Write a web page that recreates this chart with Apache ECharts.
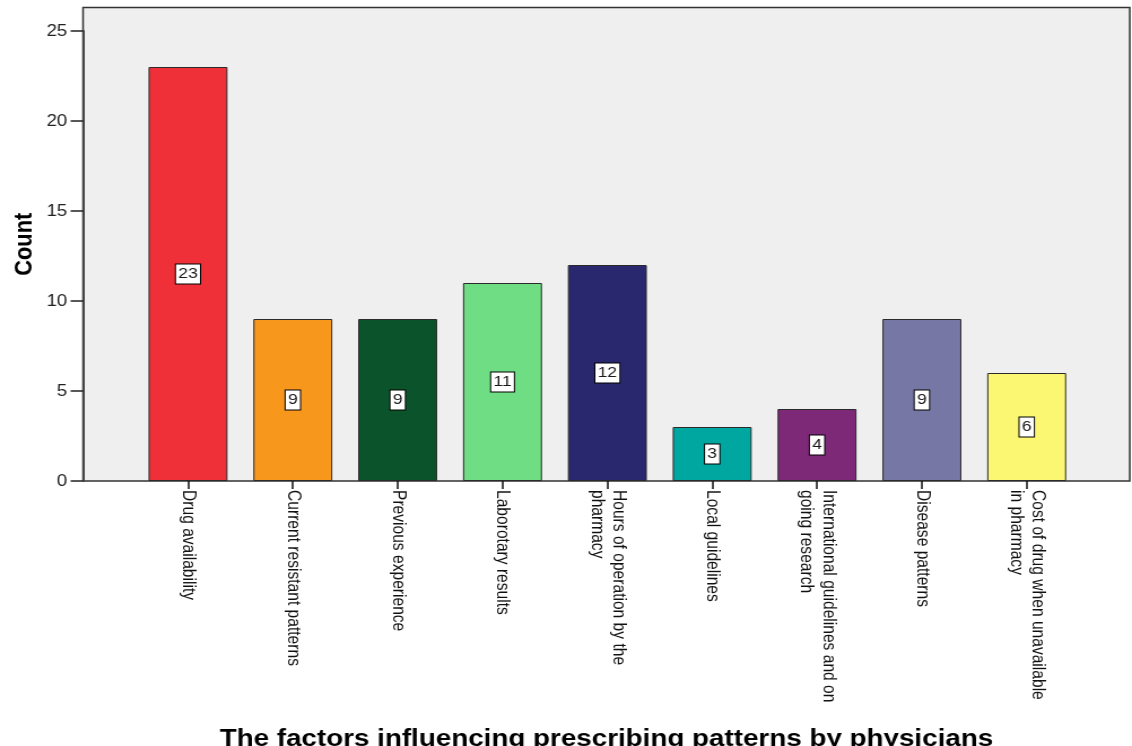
<!DOCTYPE html>
<html>
<head>
<meta charset="utf-8">
<script src="https://cdn.jsdelivr.net/npm/echarts@6/dist/echarts.min.js"></script>
<style>
  html, body { margin: 0; padding: 0; background: #ffffff; overflow: hidden; }
  #wrap { width: 1132px; height: 746px; overflow: hidden; }
  /* chart is laid out narrower and widened horizontally, like the exported graph */
  #chart { width: 1002px; height: 746px; transform: scaleX(1.12974); transform-origin: 0 0; }
</style>
</head>
<body>
<div id="wrap"><div id="chart"></div></div>
<script>
// Factors influencing prescribing patterns (counts)
const categories = [
  'Drug availability',
  'Current resistant patterns',
  'Previous experience',
  'Laborotary results',
  'Hours of operation by the\npharmacy',
  'Local guidelines',
  'International guidelines and on\ngoing research',
  'Disease patterns',
  'Cost of drug when unavailable\nin pharmacy'
];
const counts = [23, 9, 9, 11, 12, 3, 4, 9, 6];
const barColors = ['#ef3039', '#f7981d', '#0b532a', '#6fdd84', '#29286f', '#00a6a0', '#7e2878', '#7777a5', '#fbf772'];
const yTicks = { min: 0, max: 25, interval: 5 };
const yTitle = 'Count';
const xTitle = 'The factors influencing prescribing patterns by physicians';

const FONT = '"Liberation Sans", Arial, sans-serif';

const chart = echarts.init(document.getElementById('chart'), null, { renderer: 'canvas' });

chart.setOption({
  backgroundColor: '#ffffff',
  animation: false,
  textStyle: { fontFamily: FONT },
  grid: [
    // outer plot frame
    { left: 73.5, right: 2, top: 7.5, bottom: 265, show: true, containLabel: false,
      outerBoundsMode: 'none',
      backgroundColor: '#efefef', borderColor: '#333333', borderWidth: 1.5 },
    // bar area
    { left: 120, right: 46.8, top: 31, bottom: 265, containLabel: false,
      outerBoundsMode: 'none' }
  ],
  xAxis: [
    { gridIndex: 0, type: 'value', min: 0, max: 1,
      axisLine: { show: false }, axisTick: { show: false }, axisLabel: { show: false },
      splitLine: { show: false },
      name: xTitle, nameLocation: 'middle', nameGap: 246,
      nameTextStyle: { fontFamily: FONT, fontWeight: 'bold', fontSize: 24.6, color: '#000000' } },
    { gridIndex: 1, type: 'category', data: categories,
      axisLine: { show: false },
      axisTick: { show: true, alignWithLabel: true, length: 8, lineStyle: { color: '#111111', width: 1.5 } },
      axisLabel: { rotate: -90, margin: 9, interval: 0, fontFamily: FONT, fontSize: 15.6,
        lineHeight: 19.5, color: '#111111', padding: [10, 0, 0, 0] },
      splitLine: { show: false } }
  ],
  yAxis: [
    { gridIndex: 0, type: 'value', min: 0, max: 1,
      axisLine: { show: false }, axisTick: { show: false }, axisLabel: { show: false },
      splitLine: { show: false },
      name: yTitle, nameLocation: 'middle', nameGap: 41,
      nameTextStyle: { fontFamily: FONT, fontWeight: 'bold', fontSize: 21.8, color: '#000000' } },
    { gridIndex: 1, type: 'value', min: yTicks.min, max: yTicks.max, interval: yTicks.interval,
      offset: 46.5,
      axisLine: { show: true, lineStyle: { color: '#444444', width: 2 } },
      axisTick: { show: true, length: 11, lineStyle: { color: '#222222', width: 1.5 } },
      axisLabel: { margin: 14, fontFamily: FONT, fontSize: 16.5, color: '#222222' },
      splitLine: { show: false } }
  ],
  series: [{
    type: 'bar',
    xAxisIndex: 1,
    yAxisIndex: 1,
    barWidth: '75.3%',
    data: counts.map((v, i) => ({
      value: v,
      itemStyle: { color: barColors[i], borderColor: '#2a2a2a', borderWidth: 1 }
    })),
    label: {
      show: true,
      position: 'inside',
      formatter: '{c}',
      fontFamily: FONT,
      fontSize: 15.5,
      lineHeight: 18,
      color: '#1a1a1a',
      backgroundColor: '#ffffff',
      borderColor: '#000000',
      borderWidth: 1,
      padding: [1, 2, 0, 2]
    }
  }]
});
</script>
</body>
</html>
